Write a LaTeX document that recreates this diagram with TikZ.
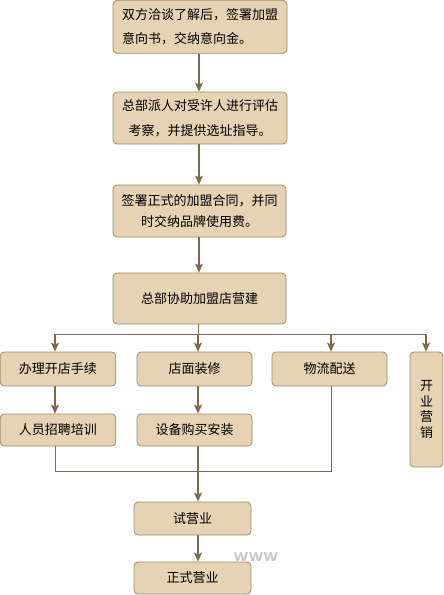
\documentclass[tikz,border=0pt]{standalone}
\usepackage{fontspec}
\newfontfamily\cjk{Noto Sans CJK SC}
\usetikzlibrary{arrows.meta}
\definecolor{boxfill}{HTML}{E5D3B3}
\definecolor{boxdraw}{HTML}{9E8A66}
\definecolor{arrcol}{HTML}{7D6A4C}
\definecolor{wm}{HTML}{C9C9C9}
\tikzset{
  box/.style={draw=boxdraw, fill=boxfill, rounded corners=4pt, line width=0.8pt,
    inner sep=0pt, font=\cjk\fontsize{13}{22}\selectfont, text=black},
  arr/.style={draw=arrcol, line width=1.3pt, -{Stealth[length=9pt,width=8pt,inset=2pt]}},
  ln/.style={draw=arrcol, line width=0.8pt},
}
\begin{document}
\begin{tikzpicture}[x=1pt,y=-1pt]
\useasboundingbox (0,0) rectangle (444,595);
\fill[white] (0,0) rectangle (444,595);
\node[box, minimum width=174, minimum height=53, align=left, font=\cjk\fontsize{13}{24}\selectfont] (b1) at (200,26.8) {双方洽谈了解后，签署加盟\\意向书，交纳意向金。};
\node[box, minimum width=174, minimum height=52, align=center, font=\cjk\fontsize{13}{25}\selectfont] (b2) at (200,118) {总部派人对受许人进行评估\\考察，并提供选址指导。};
\node[box, minimum width=173, minimum height=52, align=center, font=\cjk\fontsize{13}{20.5}\selectfont] (b3) at (199.5,211) {签署正式的加盟合同，并同\\时交纳品牌使用费。};
\node[box, minimum width=173, minimum height=51] (b4) at (199.5,298.5) {总部协助加盟店营建};
\node[box, minimum width=115.5, minimum height=34] (ra) at (58,369) {办理开店手续};
\node[box, minimum width=115, minimum height=34] (rb) at (194.5,369) {店面装修};
\node[box, minimum width=115, minimum height=34] (rc) at (329.5,369) {物流配送};
\node[box, minimum width=33, minimum height=115, align=center, font=\cjk\fontsize{13}{15.5}\selectfont] (rd) at (426.5,409.5) {开\\业\\营\\销};
\node[box, minimum width=115.5, minimum height=32] (sa) at (58,430) {人员招聘培训};
\node[box, minimum width=115, minimum height=32] (sb) at (194.5,430) {设备购买安装};
\node[box, minimum width=117, minimum height=33] (tr) at (192.5,518.5) {试营业};
\node[box, minimum width=117, minimum height=32] (fn) at (192.5,578) {正式营业};
\node[text=wm, font=\sffamily\bfseries\fontsize{20}{20}\selectfont] (wmk) at (256,557) {www};
% main arrows
\coordinate (m1) at (199,0);
\draw[arr] (m1 |- b1.south) -- (m1 |- b2.north);
\draw[arr] (m1 |- b2.south) -- (m1 |- b3.north);
\draw[arr] (m1 |- b3.south) -- (m1 |- b4.north);
% bus
\coordinate (busL) at (55,334);
\coordinate (busM) at (198,334);
\coordinate (busC) at (331,334);
\coordinate (busR) at (426,334);
\draw[ln] (busM |- b4.south) -- (busM);
\draw[ln] (busL) -- (busR);
\draw[arr] (busL) -- (busL |- ra.north);
\draw[arr] (busM) -- (busM |- rb.north);
\draw[arr] (busC) -- (busC |- rc.north);
\draw[arr] (busR) -- (busR |- rd.north);
\draw[arr] (busL |- ra.south) -- (busL |- sa.north);
\draw[arr] (busM |- rb.south) -- (busM |- sb.north);
% bottom collector
\coordinate (colL) at (55,471);
\coordinate (colR) at (331,471);
\draw[ln] (busL |- sa.south) -- (colL) -- (colR) -- (busC |- rc.south);
\draw[arr] (busM |- sb.south) -- (busM |- tr.north);
\draw[arr] (busM |- tr.south) -- (busM |- fn.north);
\end{tikzpicture}
\end{document}
